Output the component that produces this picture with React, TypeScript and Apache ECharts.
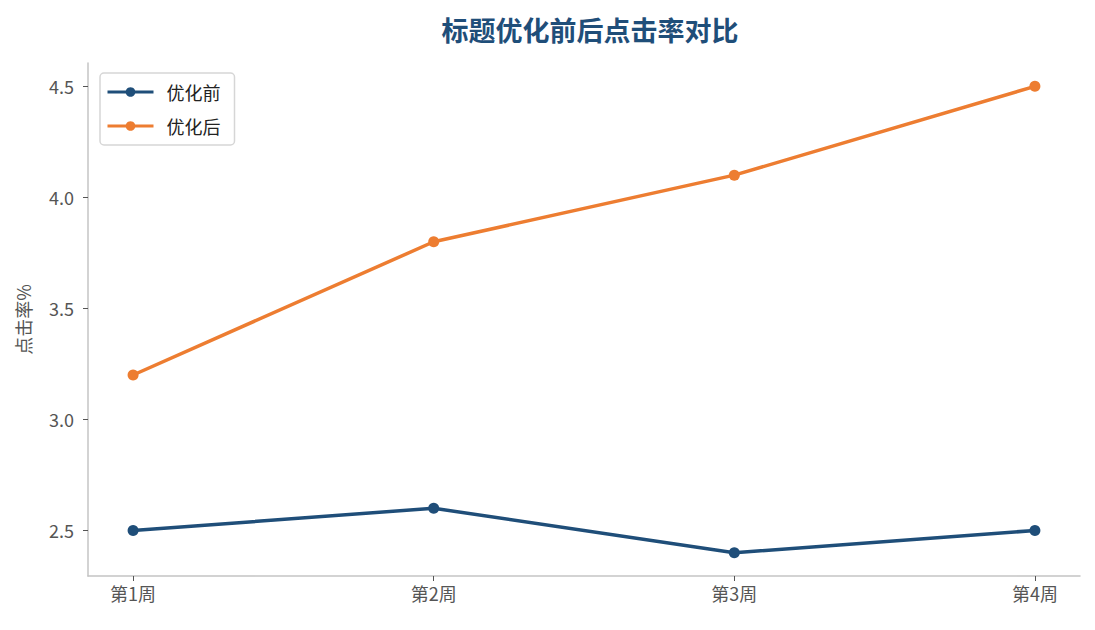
import * as echarts from "echarts";
import { useEffect, useRef } from "react";

const weeks = ["第1周", "第2周", "第3周", "第4周"];
const before = [2.5, 2.6, 2.4, 2.5];
const after = [3.2, 3.8, 4.1, 4.5];
const yTicks = [2.5, 3.0, 3.5, 4.0, 4.5];

const BLUE = "#1f4e79";
const ORANGE = "#ed7d31";
const FONT = "'Noto Sans CJK SC', 'Noto Sans', sans-serif";

export default function App() {
  const ref = useRef<HTMLDivElement>(null);

  useEffect(() => {
    if (!ref.current) return;
    const chart = echarts.init(ref.current, undefined, { renderer: "svg" });
    const toPoints = (vals: number[]) => vals.map((v, i) => [i, v]);

    const option: echarts.EChartsOption = {
      animation: false,
      backgroundColor: "#fff",
      textStyle: { fontFamily: FONT },
      title: {
        text: "标题优化前后点击率对比",
        left: 585,
        top: 11,
        textAlign: "center",
        textStyle: { fontSize: 27, fontWeight: "bold", color: BLUE, fontFamily: FONT },
      },
      legend: {
        left: 100,
        top: 73,
        orient: "vertical",
        itemWidth: 46,
        itemHeight: 12,
        itemGap: 16,
        padding: [10, 14, 10, 6],
        backgroundColor: "#fff",
        borderColor: "#d6d6d6",
        borderWidth: 1.5,
        borderRadius: 4,
        lineStyle: { width: 3 },
        textStyle: { fontSize: 18, color: "#222", padding: [0, 0, 0, 8] },
        data: ["优化前", "优化后"],
      },
      grid: { left: 88, right: 15, top: 63, bottom: 54 },
      xAxis: {
        type: "value",
        min: -0.15,
        max: 3.15,
        splitLine: { show: false },
        axisLine: { onZero: false, lineStyle: { color: "#c4c4c4", width: 1.5 } },
        axisTick: { customValues: [0, 1, 2, 3], length: 5, lineStyle: { color: "#555" } },
        axisLabel: {
          customValues: [0, 1, 2, 3],
          formatter: (v: number) => weeks[Math.round(v)] ?? "",
          fontSize: 18,
          color: "#555",
          margin: 8,
        },
      },
      yAxis: {
        type: "value",
        min: 2.295,
        max: 4.605,
        name: "点击率%",
        nameLocation: "middle",
        nameGap: 56,
        nameTextStyle: { fontSize: 18, color: "#555" },
        splitLine: { show: false },
        axisLine: { show: true, onZero: false, lineStyle: { color: "#c4c4c4", width: 1.5 } },
        axisTick: { show: true, customValues: yTicks, length: 5, lineStyle: { color: "#555" } },
        axisLabel: {
          customValues: yTicks,
          formatter: (v: number) => v.toFixed(1),
          fontSize: 18,
          color: "#555",
          margin: 14,
        },
      },
      series: [
        {
          name: "优化前",
          type: "line",
          data: toPoints(before),
          symbol: "circle",
          symbolSize: 11,
          color: BLUE,
          lineStyle: { width: 3.5, color: BLUE },
          itemStyle: { color: BLUE },
        },
        {
          name: "优化后",
          type: "line",
          data: toPoints(after),
          symbol: "circle",
          symbolSize: 11,
          color: ORANGE,
          lineStyle: { width: 3.5, color: ORANGE },
          itemStyle: { color: ORANGE },
        },
      ],
    };
    chart.setOption(option);
    return () => chart.dispose();
  }, []);

  return <div ref={ref} style={{ width: 1095, height: 630, margin: -8 }} />;
}
